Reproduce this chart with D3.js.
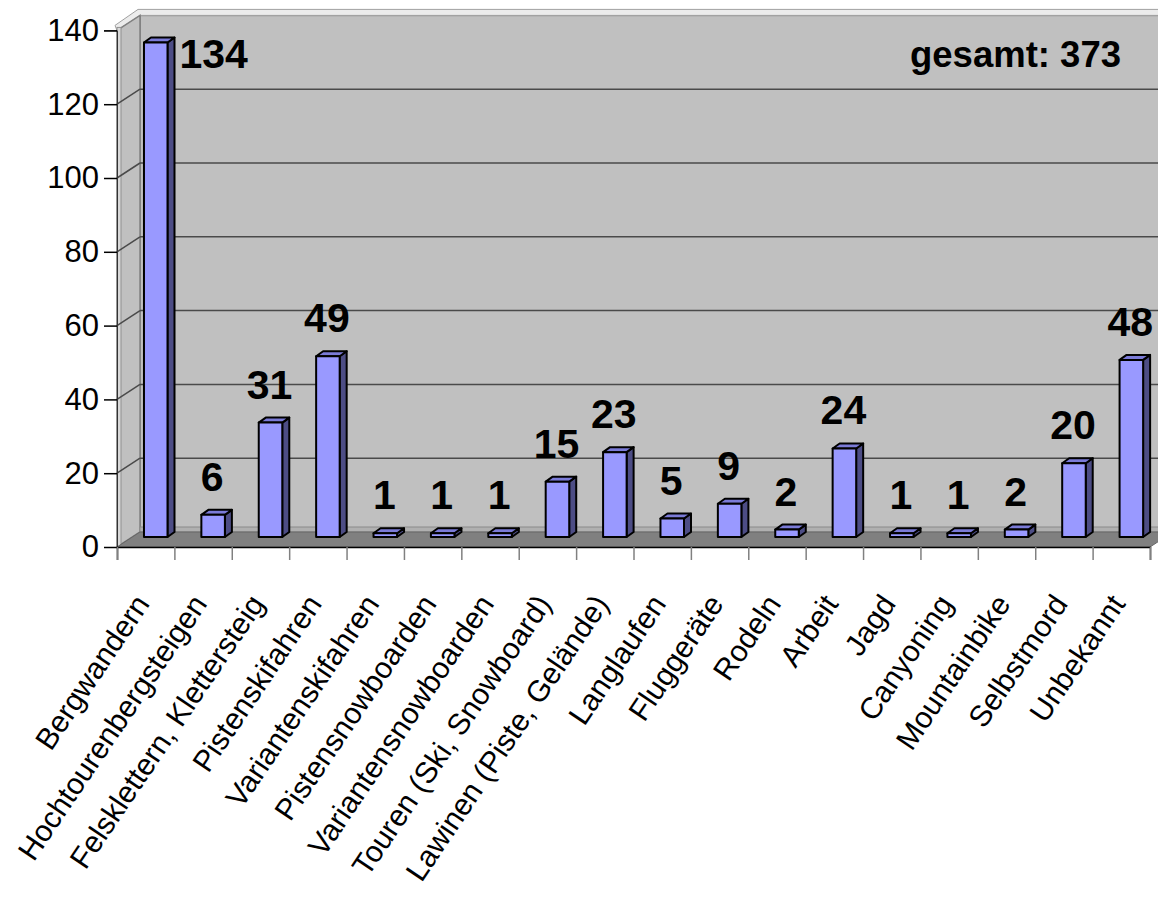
<!DOCTYPE html>
<html>
<head>
<meta charset="utf-8">
<script src="https://cdn.jsdelivr.net/npm/d3@7"></script>
<style>
  html, body { margin: 0; padding: 0; background: #fff; }
  svg { display: block; font-family: "Liberation Sans", Arial, sans-serif; }
</style>
</head>
<body>
<svg id="chart" width="1158" height="898"></svg>
<script>
// Chart data
const categories = [
    "Bergwandern", "Hochtourenbergsteigen", "Felsklettern, Klettersteig",
    "Pistenskifahren", "Variantenskifahren", "Pistensnowboarden",
    "Variantensnowboarden", "Touren (Ski, Snowboard)", "Lawinen (Piste, Gelände)",
    "Langlaufen", "Fluggeräte", "Rodeln", "Arbeit", "Jagd", "Canyoning",
    "Mountainbike", "Selbstmord", "Unbekannt"
]
const values = [134, 6, 31, 49, 1, 1, 1, 15, 23, 5, 9, 2, 24, 1, 1, 2, 20, 48]
const yTicks = [0, 20, 40, 60, 80, 100, 120, 140]
const totalPrefix = "gesamt: "

// Layout (front plane of the 3D box)
const X0 = 117, X1 = 1150, Y0 = 547
const DX = 23, DY = -15        // wall depth
const BDX = 7, BDY = -5        // bar depth
const barLift = 10             // bars stand in the middle of the floor

const svg = d3.select("#chart")

const x = d3.scaleBand()
    .domain(categories)
    .range([X0, X1])
    .padding(0)

const xEdge = d3.scaleLinear()
    .domain([0, categories.length])
    .range([X0, X1])

const y = d3.scaleLinear()
    .domain([0, 140])
    .range([Y0, Y0 - 516.6])

const yTop = y(140), yBot = y(0)
const pts = p => p.map(d => d.join(",")).join(" ")

// Back wall
svg.append("rect")
    .attr("x", X0 + DX)
    .attr("y", yTop + DY)
    .attr("width", X1 - X0)
    .attr("height", yBot - yTop)
    .attr("fill", "#c0c0c0")
    .attr("stroke", "#777")
    .attr("stroke-width", 1.5)

// wall thickness on top
svg.append("polygon")
    .attr("points", pts([
        [X0, yTop], [X0 + DX, yTop + DY], [X1 + DX + 20, yTop + DY],
        [X1 + DX + 20, yTop + DY - 6], [X0 + DX - 2, yTop + DY - 6], [X0 - 2, yTop - 5]
    ]))
    .attr("fill", "#ececec")
    .attr("stroke", "#a0a0a0")
    .attr("stroke-width", 1)

// Left wall
svg.append("polygon")
    .attr("points", pts([
        [X0, yBot], [X0, yTop], [X0 + DX, yTop + DY], [X0 + DX, yBot + DY]
    ]))
    .attr("fill", "#c0c0c0")
    .attr("stroke", "#808080")
    .attr("stroke-width", 1.5)

svg.append("rect")
    .attr("x", X0)
    .attr("y", yTop - 3)
    .attr("width", 4)
    .attr("height", yBot - yTop + 3)
    .attr("fill", "#d8d8d8")
    .attr("stroke", "#909090")
    .attr("stroke-width", 1)

// Gridlines (back wall + left wall)
const grid = svg.append("g")
    .attr("stroke", "#4a4a4a")
    .attr("stroke-width", 1.5)
    .attr("fill", "none")

grid.selectAll(".gback")
    .data(yTicks.filter(v => v > 0 && v < 140))
    .join("line")
    .attr("x1", X0 + DX)
    .attr("x2", X1 + DX)
    .attr("y1", d => y(d) + DY)
    .attr("y2", d => y(d) + DY)

grid.selectAll(".gleft")
    .data(yTicks.filter(v => v > 0 && v < 140))
    .join("line")
    .attr("x1", X0)
    .attr("x2", X0 + DX)
    .attr("y1", d => y(d))
    .attr("y2", d => y(d) + DY)

// Floor
svg.append("rect")
    .attr("x", X0 + DX)
    .attr("y", yBot + DY - 5)
    .attr("width", X1 - X0)
    .attr("height", 5)
    .attr("fill", "#b0b0b0")
    .attr("stroke", "#8a8a8a")
    .attr("stroke-width", 1)

svg.append("polygon")
    .attr("points", pts([
        [X0, yBot], [X1, yBot], [X1 + DX, yBot + DY], [X0 + DX, yBot + DY]
    ]))
    .attr("fill", "#808080")
    .attr("stroke", "#666")
    .attr("stroke-width", 1)

// Bars
const bw = x.bandwidth() * 0.41
const bOff = x.bandwidth() * 0.47
const baseY = yBot - barLift

const bars = svg.append("g")
    .selectAll("g")
    .data(values.map((v, i) => ({cat: categories[i], value: v})))
    .join("g")
    .attr("stroke", "#000")
    .attr("stroke-width", 2)
    .attr("stroke-linejoin", "round")

bars.each(function (d) {
    const g = d3.select(this)
    const bx = x(d.cat) + bOff
    const top = y(d.value) - barLift

    // side face
    g.append("polygon")
        .attr("points", pts([
            [bx + bw, top], [bx + bw + BDX, top + BDY],
            [bx + bw + BDX, baseY + BDY], [bx + bw, baseY]
        ]))
        .attr("fill", "#4d4d85")
    // top face
    g.append("polygon")
        .attr("points", pts([
            [bx, top], [bx + BDX, top + BDY],
            [bx + bw + BDX, top + BDY], [bx + bw, top]
        ]))
        .attr("fill", "#7b7bd8")
    // front face
    g.append("rect")
        .attr("x", bx)
        .attr("y", top)
        .attr("width", bw)
        .attr("height", baseY - top)
        .attr("fill", "#9999ff")
})

// Value labels
const labelSize = 41
svg.append("g")
    .selectAll("text")
    .data(values.map((v, i) => ({cat: categories[i], value: v})))
    .join("text")
    .each(function (d) {
        const bx = x(d.cat) + bOff
        const top = y(d.value) - barLift
        let ly = top - 24
        const t = d3.select(this)
        if (ly - labelSize * 0.72 < yTop + DY) {
            // no room above: put it beside the bar
            t.attr("x", bx + bw + BDX + 5)
                .attr("y", top + 25)
                .attr("text-anchor", "start")
        } else {
            t.attr("x", bx + bw / 2 - 1)
                .attr("y", ly)
                .attr("text-anchor", "middle")
        }
    })
    .attr("font-size", labelSize + "px")
    .attr("font-weight", "bold")
    .attr("fill", "#000")
    .text(d => d.value)

// Total
svg.append("text")
    .attr("x", 1121)
    .attr("y", 67)
    .attr("text-anchor", "end")
    .attr("font-size", "36.5px")
    .attr("font-weight", "bold")
    .text(totalPrefix + d3.sum(values))

// Y axis
const yAxis = svg.append("g")
    .attr("transform", `translate(${X0},0)`)
    .call(d3.axisLeft(y).tickValues(yTicks).tickSize(13).tickPadding(5))
yAxis.select(".domain").attr("stroke", "#333").attr("stroke-width", 1)
yAxis.selectAll(".tick line").attr("stroke", "#000").attr("stroke-width", 1.5)
yAxis.selectAll(".tick text")
    .attr("font-size", "31px")
    .attr("font-family", "Liberation Sans, Arial, sans-serif")
    .attr("fill", "#000")

// X axis (category boundaries)
const xAxis = svg.append("g")
    .attr("transform", `translate(0,${Y0})`)
    .call(d3.axisBottom(xEdge)
        .tickValues(d3.range(categories.length + 1))
        .tickSize(13)
        .tickFormat(""))
xAxis.select(".domain").attr("stroke", "#000").attr("stroke-width", 1.5)
xAxis.selectAll(".tick line").attr("stroke", "#808080").attr("stroke-width", 1.5)

// Category labels
svg.append("g")
    .selectAll("text")
    .data(categories)
    .join("text")
    .attr("transform", d => `translate(${x(d) + x.bandwidth() / 2 + 5},604) rotate(-56)`)
    .attr("text-anchor", "end")
    .attr("font-size", "30px")
    .attr("fill", "#000")
    .text(d => d)
</script>
</body>
</html>
